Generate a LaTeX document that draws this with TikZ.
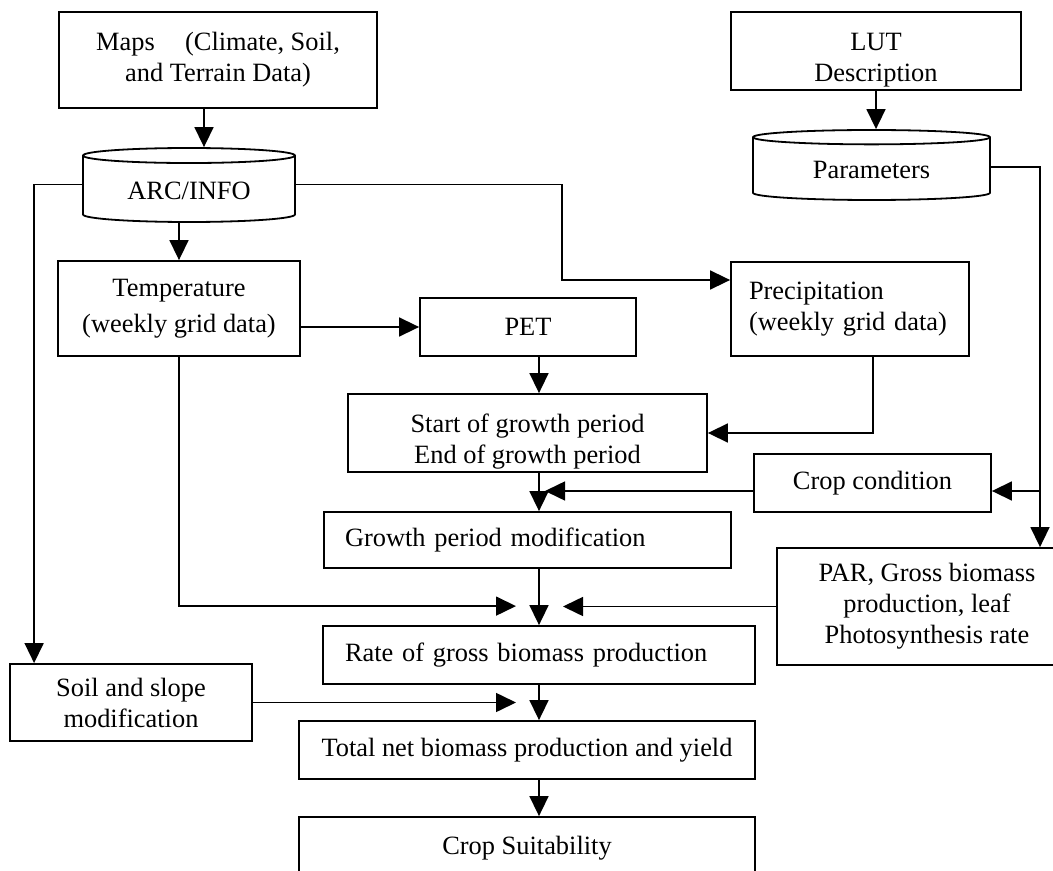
\documentclass[tikz,border=0pt]{standalone}
\usepackage{fontspec}
\setmainfont{Liberation Serif}
\usetikzlibrary{calc, shapes.geometric, arrows.meta}
\tikzset{
    box/.style = {draw = black, line width = 0.9pt, align = center},
    drum/.style = {draw = black, line width = 0.9pt, cylinder, shape border rotate = 90, aspect = 0.11, anchor = shape center},
    flow/.style = {black, line width = 0.8pt, -{Triangle[length = 10pt, width = 9.5pt]}}
}

\begin{document}
\begin{tikzpicture}[x = 0.5pt, y = -0.5pt, font = \fontsize{13.2pt}{15.5pt}\selectfont]
            \useasboundingbox (0, 0) rectangle (1053, 871);
            \clip (0, 0) rectangle (1053, 871);
            
            % inputs
            \node[box, minimum width = 159pt, minimum height = 48pt] (maps) at (218, 60) {Maps\hspace{1.15em}(Climate, Soil, \\ and Terrain Data)};
            \node[box, minimum width = 145pt, minimum height = 39pt, inner ysep = 0pt, text height = 33.5pt] (lut) at (876, 51) {LUT \\ Description};
            \node[drum, minimum width = 106pt, minimum height = 37pt] (arc) at (189, 185) {ARC/INFO};
            \node[drum, minimum width = 118.5pt, minimum height = 35pt] (params) at (871.5, 165) {Parameters};
            
            % grid data
            \node[box, minimum width = 121pt, minimum height = 47.5pt] (temp) at (179, 308.5) {Temperature \\[2.5pt] (weekly grid data)};
            \node[box, minimum width = 108pt, minimum height = 29pt] (pet) at (528, 327) {PET};
            \node[box, align = left, text width = 101pt, inner xsep = 9pt, minimum height = 47pt] (precip) at (850, 309) {Precipitation \\ (weekly grid data)};
            
            % growth period
            \node[box, minimum width = 179.5pt, minimum height = 39pt, inner ysep = 0pt, text height = 33.5pt] (start) at (527.5, 433) {Start of growth period \\ End of growth period};
            \node[box, minimum width = 118.5pt, minimum height = 29pt] (cond) at (872.5, 483) {Crop condition};
            \node[box, align = left, text width = 182.5pt, inner xsep = 10.5pt, minimum height = 28pt] (growth) at (527.5, 540) {Growth period modification};
            \node[box, minimum width = 150pt, minimum height = 58.5pt] (par) at (927, 606.5) {PAR, Gross biomass \\ production, leaf \\ Photosynthesis rate};
            
            % biomass and yield
            \node[box, align = left, text width = 194pt, inner xsep = 11pt, minimum height = 29pt] (rate) at (539, 655) {Rate of gross biomass production};
            \node[box, minimum width = 121pt, minimum height = 38.5pt] (soil) at (131, 702.5) {Soil and slope \\ modification};
            \node[box, minimum width = 228pt, minimum height = 29pt] (total) at (527, 750) {Total net biomass production and yield};
            \node[box, minimum width = 228pt, minimum height = 31pt] (suit) at (527, 848) {Crop Suitability};
            
            % connectors
            \draw[flow] ($(maps.south) + (-14, 0)$) -- ($(maps.south |- arc.north) + (-14, 0)$);
            \draw[flow] (lut.south) -- (lut.south |- params.north);
            \draw[flow] (temp.north |- arc.south) -- (temp.north);
            \draw[flow] ($(arc.west) + (0, -6)$) -| ($(soil.north west) + (25, 0)$);
            \draw[flow] ($(arc.east) + (0, -6)$) -| ($(precip.west) + (-168, -29)$) -- ($(precip.west) + (0, -29)$);
            \draw[flow] (temp.east |- pet.west) -- (pet.west);
            \draw[flow] (pet.south -| rate.north) -- (start.north -| rate.north);
            \draw[flow] ($(precip.south) + (23, 0)$) |- (start.east);
            \draw[flow] (start.south -| rate.north) -- (growth.north -| rate.north);
            \draw[flow] ($(cond.west) + (0, 8)$) -- ($(cond.west -| rate.north) + (6, 8)$);
            \draw[flow] ($(params.east) + (0, -3)$) -| ($(par.north) + (113, 0)$);
            \draw[flow] ($(cond.east) + (49, 8)$) -- ($(cond.east) + (0, 8)$);
            \draw[flow] (growth.south -| rate.north) -- (rate.north);
            \draw[flow] (temp.south) |- ($(rate.north) + (-23, -19)$);
            \draw[flow] (par.west) -- ($(par.west -| rate.north) + (24, 0)$);
            \draw[flow] (rate.south) -- (rate.south |- total.north);
            \draw[flow] (soil.east) -- ($(soil.east -| rate.north) + (-23, 0)$);
            \draw[flow] (rate.south |- total.south) -- (rate.south |- suit.north);
        \end{tikzpicture}
\end{document}
